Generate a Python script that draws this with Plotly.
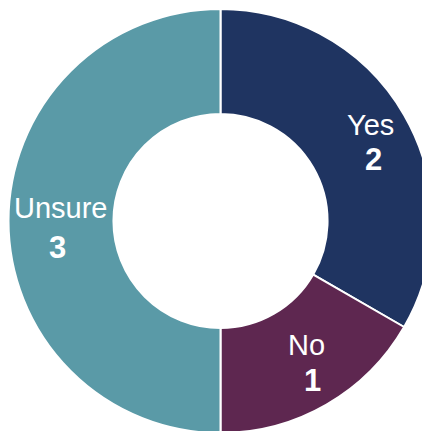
import plotly.graph_objects as go

labels = ["Yes", "No", "Unsure"]
values = [2, 1, 3]
colors = ["#1f3461", "#5e2750", "#5a9aa7"]

fig = go.Figure(go.Pie(
    labels=labels,
    values=values,
    hole=0.505,
    sort=False,
    direction="clockwise",
    rotation=0,
    marker=dict(colors=colors, line=dict(color="white", width=2)),
    textinfo="none",
    showlegend=False,
    hoverinfo="label+value",
))

# annotation anchor points (paper coords) for label name and value
name_pos = [(0.854, 0.7264), (0.7012, 0.2075), (0.1247, 0.5295)]
value_pos = [(0.861, 0.6462), (0.7165, 0.1238), (0.1165, 0.4375)]

font_family = "Liberation Sans, Arial, sans-serif"
for lab, val, (nx, ny), (vx, vy) in zip(labels, values, name_pos, value_pos):
    fig.add_annotation(x=nx, y=ny, xref="paper", yref="paper", text=lab,
                       showarrow=False, xanchor="center", yanchor="middle",
                       font=dict(family=font_family, size=29, color="white"))
    fig.add_annotation(x=vx, y=vy, xref="paper", yref="paper", text=f"<b>{val}</b>",
                       showarrow=False, xanchor="center", yanchor="middle",
                       font=dict(family=font_family, size=31, color="white"))

fig.update_layout(
    width=441, height=442,
    margin=dict(l=8, r=8, t=9, b=9),
    paper_bgcolor="white",
    plot_bgcolor="white",
)

fig.write_html(
    "out.html",
    config={"displayModeBar": False},
    post_script="document.body.style.margin='0';document.body.style.overflow='hidden';document.documentElement.style.overflow='hidden';",
)
